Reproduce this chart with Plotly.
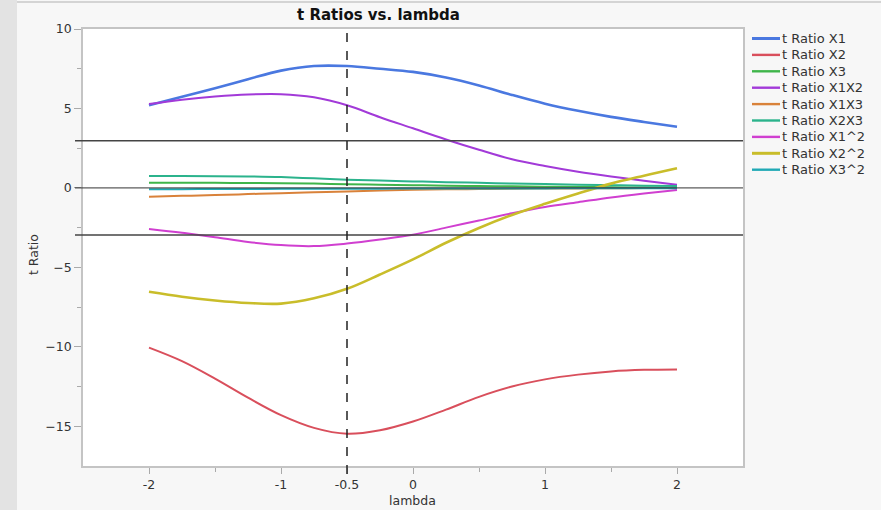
import plotly.graph_objects as go

# lambda grid and t ratios for each term
lam = [-2, -1.75, -1.5, -1.25, -1, -0.75, -0.5, -0.25, 0, 0.25, 0.5, 0.75, 1, 1.25, 1.5, 1.75, 2]

t_x1 = [5.2, 5.74, 6.27, 6.84, 7.38, 7.67, 7.67, 7.5, 7.3, 6.95, 6.45, 5.85, 5.3, 4.85, 4.47, 4.15, 3.85]
t_x2 = [-10.05, -10.9, -12.0, -13.2, -14.3, -15.1, -15.47, -15.25, -14.7, -13.95, -13.15, -12.5, -12.05, -11.75, -11.55, -11.45, -11.42]
t_x3 = [0.33, 0.33, 0.32, 0.31, 0.3, 0.27, 0.23, 0.2, 0.17, 0.14, 0.12, 0.1, 0.08, 0.06, 0.04, 0.02, 0.0]
t_x1x2 = [5.28, 5.55, 5.75, 5.88, 5.9, 5.7, 5.2, 4.45, 3.75, 3.05, 2.4, 1.8, 1.38, 1.02, 0.72, 0.45, 0.2]
t_x1x3 = [-0.55, -0.5, -0.45, -0.39, -0.33, -0.28, -0.23, -0.17, -0.12, -0.09, -0.07, -0.05, -0.04, -0.03, -0.02, -0.01, 0.0]
t_x2x3 = [0.75, 0.75, 0.74, 0.72, 0.68, 0.6, 0.52, 0.46, 0.41, 0.36, 0.32, 0.28, 0.24, 0.2, 0.17, 0.14, 0.12]
t_x1sq = [-2.58, -2.82, -3.1, -3.4, -3.6, -3.66, -3.5, -3.25, -2.95, -2.5, -2.05, -1.6, -1.2, -0.9, -0.6, -0.35, -0.13]
t_x2sq = [-6.54, -6.85, -7.08, -7.24, -7.28, -6.95, -6.35, -5.45, -4.5, -3.45, -2.52, -1.7, -1.0, -0.35, 0.27, 0.77, 1.24]
t_x3sq = [-0.08, -0.08, -0.07, -0.07, -0.06, -0.06, -0.05, -0.05, -0.04, -0.04, -0.03, -0.03, -0.03, -0.02, -0.02, -0.02, -0.02]

series_names = ["t Ratio X1", "t Ratio X2", "t Ratio X3", "t Ratio X1X2", "t Ratio X1X3",
                "t Ratio X2X3", "t Ratio X1^2", "t Ratio X2^2", "t Ratio X3^2"]
series_values = [t_x1, t_x2, t_x3, t_x1x2, t_x1x3, t_x2x3, t_x1sq, t_x2sq, t_x3sq]
series_colors = ["#4a78e0", "#d94f5c", "#3fb54a", "#a23ad8", "#d9823a",
                 "#2bb38c", "#d03fd0", "#c9bd2a", "#20a9b5"]
series_widths = [2.6, 2, 2, 2, 2, 2, 2, 2.6, 2]

x_ticks = [-2, -1, -0.5, 0, 1, 2]
x_tick_text = ["-2", "-1", "-0.5", "0", "1", "2"]
y_ticks = [-15, -10, -5, 0, 5, 10]
t_crit = 2.97
lam_selected = -0.5

# plot-area geometry in pixels (for paper-coordinate placement of decorations)
W, H = 881, 510
L, R, T, B = 83, 138, 29, 44
PW, PH = W - L - R, H - T - B


def px_x(px):
    return (px - L) / PW


def px_y(py):
    return (H - B - py) / PH


fig = go.Figure()
for name, vals, col, w in zip(series_names, series_values, series_colors, series_widths):
    fig.add_trace(go.Scatter(x=lam, y=vals, mode="lines", name=name, showlegend=False,
                             line=dict(color=col, width=w, shape="spline", smoothing=1.0)))

axis_font = dict(family="DejaVu Sans", size=12.5, color="#333333")
fig.update_layout(
    width=W, height=H,
    margin=dict(l=L, r=R, t=T, b=B),
    paper_bgcolor="#f7f7f7",
    plot_bgcolor="#ffffff",
    font=axis_font,
    showlegend=False,
    xaxis=dict(range=[-2.5, 2.5], tickmode="array", tickvals=x_ticks, ticktext=x_tick_text,
               showgrid=False, zeroline=False, showline=True, linecolor="#c4c4c4", linewidth=1.5,
               mirror=True, ticks="outside", ticklen=6, tickcolor="#aaaaaa", tickwidth=1,
               minor=dict(tickvals=[-1.5, 0.5, 1.5], ticks="outside", ticklen=4,
                          tickcolor="#aaaaaa", showgrid=False)),
    yaxis=dict(range=[-17.5, 10], tickmode="array", tickvals=y_ticks,
               showgrid=False, zeroline=False, showline=True, linecolor="#c4c4c4", linewidth=1.5,
               mirror=True, ticks="outside", ticklen=7, tickcolor="#aaaaaa", tickwidth=1,
               minor=dict(tickvals=[-12.5, -7.5, -2.5, 2.5, 7.5], ticks="outside", ticklen=4,
                          tickcolor="#aaaaaa", showgrid=False)),
)

# window frame strips
fig.add_shape(type="rect", xref="paper", yref="paper", x0=px_x(0), x1=px_x(17),
              y0=px_y(H), y1=px_y(0), fillcolor="#e3e3e3", line_width=0, layer="below")
fig.add_shape(type="line", xref="paper", yref="paper", x0=px_x(17), x1=px_x(W),
              y0=px_y(2), y1=px_y(2), line=dict(color="#d4d4d4", width=2))

# reference lines: zero and +/- critical t
fig.add_shape(type="line", xref="paper", yref="y", x0=px_x(75), x1=1, y0=0, y1=0,
              line=dict(color="#333333", width=1))
for yv in (t_crit, -t_crit):
    fig.add_shape(type="line", xref="paper", yref="y", x0=px_x(75), x1=1, y0=yv, y1=yv,
                  line=dict(color="#444444", width=1.5))

# selected lambda
fig.add_shape(type="line", xref="x", yref="paper", x0=lam_selected, x1=lam_selected,
              y0=px_y(474), y1=1, line=dict(color="#222222", width=1.5, dash="dash"))

# legend: short line sample plus label for each series
leg_x0, leg_y0, leg_dy = 752, 38.5, 16.4
for i, (name, col, w) in enumerate(zip(series_names, series_colors, series_widths)):
    yy = px_y(leg_y0 + i * leg_dy)
    fig.add_shape(type="line", xref="paper", yref="paper", x0=px_x(leg_x0), x1=px_x(leg_x0 + 28),
                  y0=yy, y1=yy, line=dict(color=col, width=w + 0.4))
    fig.add_annotation(text=name, xref="paper", yref="paper", x=px_x(leg_x0 + 28), y=yy,
                       xanchor="left", yanchor="middle", showarrow=False,
                       font=dict(family="DejaVu Sans", size=13, color="#333333"))

fig.add_annotation(text="<b>t Ratios vs. lambda</b>", xref="paper", yref="paper",
                   x=px_x(378), y=px_y(15), xanchor="center", yanchor="middle",
                   showarrow=False, font=dict(family="DejaVu Sans", size=15, color="#111111"))
fig.add_annotation(text="lambda", xref="paper", yref="paper",
                   x=px_x(412), y=px_y(500), xanchor="center", yanchor="middle",
                   showarrow=False, font=axis_font)
fig.add_annotation(text="t Ratio", xref="paper", yref="paper",
                   x=px_x(33), y=px_y(255), xanchor="center", yanchor="middle",
                   textangle=-90, showarrow=False, font=axis_font)

fig.write_html("out.html")
